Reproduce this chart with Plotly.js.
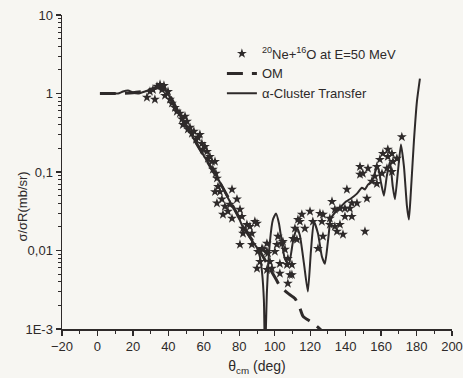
<!DOCTYPE html>
<html>
<head>
<meta charset="utf-8">
<script src="https://cdn.plot.ly/plotly-3.0.1.min.js"></script>
<style>
  html, body { margin: 0; padding: 0; background: #f7f6f2; }
  #chart { width: 463px; height: 378px; }
</style>
</head>
<body>
<div id="chart"></div>
<script>
// Experimental data: 20Ne+16O at E=50 MeV (theta_cm in deg, sigma/sigmaR)
const expTheta = [27.9,29.6,31.3,32.4,33.6,35.3,36.4,37.5,38.1,39.8,
  40.9,42.0,43.7,44.8,46.5,47.7,48.2,49.4,50.5,51.0,52.2,53.3,54.4,55.6,56.7,57.8,58.9,59.5,60.6,61.8,
  62.3,63.4,64.6,65.1,66.3,66.8,67.4,68.0,66.3,69.1,70.2,70.8,67.4,71.9,73.6,74.7,75.9,75.9,78.7,80.4,
  81.5,82.1,80.4,84.3,86.0,87.1,82.1,87.1,88.8,90.0,90.5,90.0,91.7,92.8,93.3,95.6,95.6,96.2,97.3,98.4,
  95.6,100.1,101.2,101.8,102.9,102.9,104.1,104.6,105.8,106.9,107.4,108.6,107.4,109.7,109.7,110.3,111.4,112.5,113.1,114.2,
  115.3,117.0,119.9,121.5,124.4,125.5,126.6,127.2,127.2,131.1,131.1,132.3,133.9,133.9,135.1,136.8,136.8,138.5,139.6,139.6,
  140.7,142.4,143.5,143.5,146.4,148.1,148.1,149.7,150.9,152.0,152.6,154.8,156.5,157.6,157.6,159.3,160.5,161.0,163.3,163.8,
  163.8,166.1,166.1,166.7,168.9,171.7];
const expSigma = [0.89,1.06,1.12,0.84,1.23,1.30,1.12,1.26,0.94,1.06,
  0.84,0.75,0.66,0.59,0.56,0.47,0.40,0.51,0.44,0.35,0.37,0.31,0.33,0.26,0.275,0.30,0.23,0.194,0.211,0.182,
  0.149,0.157,0.136,0.108,0.136,0.096,0.083,0.065,0.056,0.056,0.045,0.0288,0.040,0.0364,0.0314,0.0386,0.0256,0.060,0.045,0.0333,
  0.0271,0.0191,0.0119,0.0214,0.0202,0.0165,0.0165,0.0119,0.0234,0.0221,0.0097,0.0059,0.0072,0.0106,0.0103,0.0123,0.0097,0.0092,0.0072,0.0059,
  0.0057,0.0097,0.0119,0.0151,0.0068,0.0051,0.0123,0.0130,0.0103,0.0066,0.0079,0.0049,0.0038,0.0066,0.0049,0.0142,0.0191,0.0138,0.0248,0.0234,
  0.0288,0.0191,0.0314,0.0234,0.0106,0.0296,0.0234,0.0288,0.0151,0.0256,0.0214,0.042,0.0333,0.0202,0.0175,0.0214,0.0343,0.0160,0.0343,0.0271,
  0.060,0.0343,0.040,0.0271,0.040,0.117,0.093,0.096,0.0175,0.046,0.111,0.076,0.088,0.117,0.071,0.144,0.096,0.172,0.111,0.194,
  0.157,0.172,0.101,0.136,0.149,0.28];

// Optical model (OM) calculation
const omTheta = [1.4,10,20,30,35,40,46.5,57.8,69,75,80,86,92,97,101,103,107,111.4,114,116,120,124,130];
const omSigma = [1,1,1.02,1.1,1.2,1.0,0.53,0.195,0.074,0.042,0.026,0.015,0.0095,0.006,0.0042,0.0035,0.0029,0.00245,0.0019,0.00145,0.00125,0.00107,0.0008];

// alpha-Cluster Transfer calculation
const ctTheta = [1.4,7.1,11.6,14.4,17.2,20.0,22.8,26.8,30.7,35.3,38.1,42.0,46.5,52.2,57.8,63.4,69.1,74.7,78.7,82.1,
  86.0,89.9,91.6,92.8,93.9,94.5,95.6,97.3,99.0,100.7,102.4,104.1,105.8,108.0,110.3,112.5,114.2,116.5,118.7,120.4,
  122.1,124.4,126.6,128.3,130.0,131.7,134.5,137.4,140.2,143.0,146.4,149.2,150.9,152.6,154.8,157.1,158.2,159.8,161.6,163.2,
  165.0,166.6,167.8,169.5,171.2,172.9,174.6,175.7,176.8,178.5,180.2,181.9];
const ctSigma = [1,1,1,1.06,1.09,1.03,1.0,1.06,1.16,1.23,1.16,0.79,0.525,0.32,0.194,0.121,0.074,0.042,0.0296,0.0196,
  0.0146,0.0109,0.0084,0.0054,0.0023,0.0004,0.003,0.013,0.0248,0.0296,0.0221,0.0123,0.0077,0.0068,0.013,0.0196,0.0155,0.0068,0.003,0.0097,
  0.0234,0.0165,0.0084,0.0068,0.013,0.0256,0.0314,0.0364,0.042,0.046,0.053,0.063,0.060,0.069,0.076,0.107,0.117,0.076,0.050,0.088,
  0.136,0.065,0.045,0.101,0.224,0.117,0.0364,0.0248,0.056,0.245,0.79,1.55];

const xTickVals = [-20,0,20,40,60,80,100,120,140,160,180,200];
const yTickVals = [0.001,0.01,0.1,1,10];
const yTickText = ['1E-3','0,01','0,1','1','10'];

const ink = '#2e2a2a';
const yMinor = [];
[0.001,0.01,0.1,1].forEach(d => { for (let k = 2; k <= 9; k++) yMinor.push(d*k); });

const traces = [
  { x: expTheta, y: expSigma, type: 'scatter', mode: 'markers',
    name: '<sup>20</sup>Ne+<sup>16</sup>O at E=50 MeV',
    marker: { symbol: 'star', size: 7.5, color: ink, line: { width: 0 } } },
  { x: omTheta, y: omSigma, type: 'scatter', mode: 'lines', name: 'OM',
    line: { color: ink, width: 3, dash: '16px,9px', shape: 'spline', smoothing: 0.6 } },
  { x: ctTheta, y: ctSigma, type: 'scatter', mode: 'lines', name: 'α-Cluster Transfer',
    line: { color: ink, width: 2, shape: 'spline', smoothing: 0.5 } }
];

const layout = {
  width: 463, height: 378,
  margin: { l: 62, r: 11, t: 15, b: 49 },
  paper_bgcolor: '#f7f6f2', plot_bgcolor: '#f7f6f2',
  font: { family: 'Liberation Sans, Arial, sans-serif', size: 13, color: ink },
  showlegend: true,
  legend: { x: 0.41, y: 0.925, xanchor: 'left', yanchor: 'top', bgcolor: 'rgba(0,0,0,0)',
            font: { size: 13, color: ink }, tracegroupgap: 0 },
  xaxis: {
    range: [-20, 200], showgrid: false, zeroline: false,
    showline: true, linecolor: ink, linewidth: 1.5,
    ticks: 'outside', ticklen: 5, tickwidth: 1.2, tickcolor: ink,
    tickmode: 'array', tickvals: xTickVals,
    tickfont: { size: 13 },
    minor: { ticks: 'outside', ticklen: 3, tickwidth: 1, tickcolor: ink, dtick: 10, tick0: 0, showgrid: false },
    title: { text: 'θ<sub>cm</sub> (deg)', font: { size: 14 }, standoff: 8 }
  },
  yaxis: {
    type: 'log', range: [-3, 1], showgrid: false, zeroline: false,
    showline: true, linecolor: ink, linewidth: 1.5,
    ticks: 'outside', ticklen: 5, tickwidth: 1.2, tickcolor: ink,
    tickmode: 'array', tickvals: yTickVals, ticktext: yTickText,
    tickfont: { size: 13 },
    minor: { ticks: 'outside', ticklen: 3, tickwidth: 1, tickcolor: ink, tickmode: 'array', tickvals: yMinor, showgrid: false }
  },
  annotations: [
    { text: 'σ/σR(mb/sr)', xref: 'paper', yref: 'paper', x: -0.1, y: 0.39,
      textangle: -90, showarrow: false, font: { size: 13, color: ink }, xanchor: 'center', yanchor: 'middle' }
  ]
};

Plotly.newPlot('chart', traces, layout, { displayModeBar: false, staticPlot: true });
</script>
</body>
</html>
